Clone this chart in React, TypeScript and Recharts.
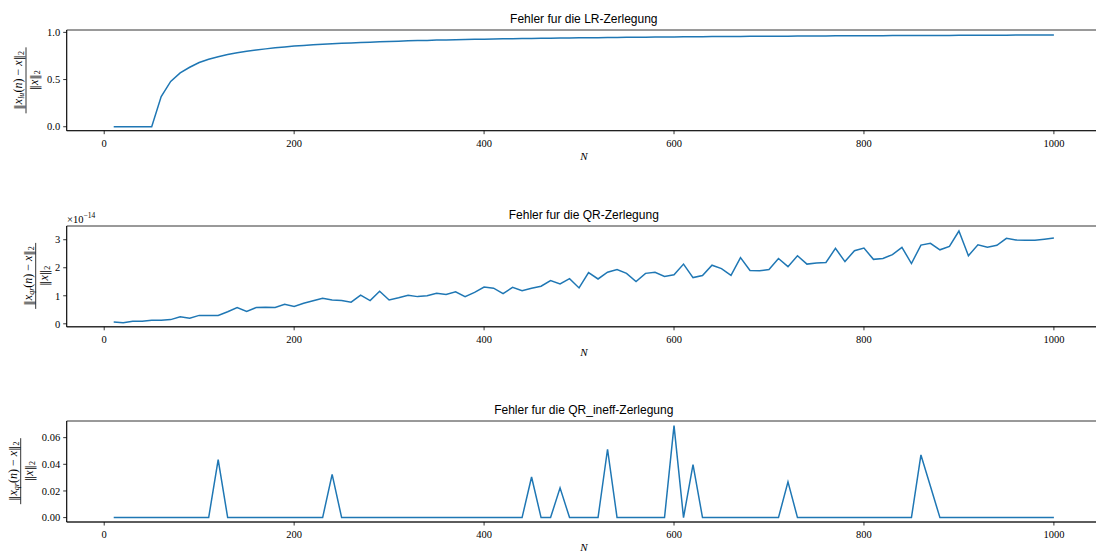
import React from 'react';
import { LineChart, Line, XAxis, YAxis, ReferenceArea } from 'recharts';

const nValues = [
  10, 20, 30, 40, 50, 60, 70, 80, 90, 100,
  110, 120, 130, 140, 150, 160, 170, 180, 190, 200,
  210, 220, 230, 240, 250, 260, 270, 280, 290, 300,
  310, 320, 330, 340, 350, 360, 370, 380, 390, 400,
  410, 420, 430, 440, 450, 460, 470, 480, 490, 500,
  510, 520, 530, 540, 550, 560, 570, 580, 590, 600,
  610, 620, 630, 640, 650, 660, 670, 680, 690, 700,
  710, 720, 730, 740, 750, 760, 770, 780, 790, 800,
  810, 820, 830, 840, 850, 860, 870, 880, 890, 900,
  910, 920, 930, 940, 950, 960, 970, 980, 990, 1000,
];

const luError = [
  0, 0, 0, 0, 0, 0.32, 0.48, 0.57, 0.63, 0.68,
  0.715, 0.742, 0.765, 0.785, 0.8, 0.813, 0.825, 0.836, 0.846, 0.855,
  0.862, 0.868, 0.874, 0.879, 0.884, 0.888, 0.892, 0.896, 0.9, 0.904,
  0.907, 0.91, 0.913, 0.915, 0.918, 0.92, 0.922, 0.924, 0.926, 0.928,
  0.93, 0.931, 0.933, 0.934, 0.936, 0.937, 0.938, 0.94, 0.941, 0.942,
  0.943, 0.944, 0.945, 0.946, 0.947, 0.948, 0.949, 0.95, 0.951, 0.952,
  0.953, 0.953, 0.954, 0.955, 0.956, 0.956, 0.957, 0.958, 0.958, 0.959,
  0.96, 0.96, 0.961, 0.961, 0.962, 0.962, 0.963, 0.963, 0.964, 0.964,
  0.965, 0.965, 0.966, 0.966, 0.967, 0.967, 0.967, 0.968, 0.968, 0.969,
  0.969, 0.969, 0.97, 0.97, 0.97, 0.971, 0.971, 0.971, 0.972, 0.972,
];

// values in units of 1e-14
const qrError = [
  0.06, 0.04, 0.09, 0.09, 0.13, 0.13, 0.15, 0.25, 0.2, 0.3,
  0.3, 0.3, 0.43, 0.58, 0.44, 0.58, 0.59, 0.58, 0.7, 0.62,
  0.73, 0.82, 0.91, 0.85, 0.83, 0.77, 1.02, 0.83, 1.16, 0.85,
  0.93, 1.02, 0.97, 1.0, 1.09, 1.05, 1.14, 0.97, 1.12, 1.31,
  1.27, 1.08, 1.3, 1.18, 1.27, 1.34, 1.54, 1.42, 1.61, 1.28,
  1.83, 1.6, 1.84, 1.94, 1.8, 1.51, 1.8, 1.84, 1.69, 1.75,
  2.13, 1.65, 1.72, 2.09, 1.97, 1.73, 2.36, 1.9, 1.89, 1.94,
  2.33, 2.04, 2.43, 2.13, 2.17, 2.19, 2.69, 2.22, 2.61, 2.7,
  2.3, 2.33, 2.47, 2.73, 2.15, 2.81, 2.87, 2.64, 2.76, 3.31,
  2.43, 2.82, 2.73, 2.8, 3.05, 2.99, 2.98, 2.98, 3.02, 3.06,
];

const qrIneffError = [
  0, 0, 0, 0, 0, 0, 0, 0, 0, 0,
  0, 0.0435, 0, 0, 0, 0, 0, 0, 0, 0,
  0, 0, 0, 0.0325, 0, 0, 0, 0, 0, 0,
  0, 0, 0, 0, 0, 0, 0, 0, 0, 0,
  0, 0, 0, 0, 0.0305, 0, 0, 0.0223, 0, 0,
  0, 0, 0.0513, 0, 0, 0, 0, 0, 0, 0.069,
  0, 0.0398, 0, 0, 0, 0, 0, 0, 0, 0,
  0, 0.0268, 0, 0, 0, 0, 0, 0, 0, 0,
  0, 0, 0, 0, 0, 0.047, 0.0235, 0, 0, 0,
  0, 0, 0, 0, 0, 0, 0, 0, 0, 0,
];

const xTicks = [0, 200, 400, 600, 800, 1000];
const luTicks = [0, 0.5, 1.0];
const qrTicks = [0, 1, 2, 3];
const qrIneffTicks = [0, 0.02, 0.04, 0.06];

const titles = [
  'Fehler fur die LR-Zerlegung',
  'Fehler fur die QR-Zerlegung',
  'Fehler fur die QR_ineff-Zerlegung',
];

const SERIF = '"Liberation Serif", "DejaVu Serif", serif';
const NORM = '"DejaVu Serif", serif';
const SANS = '"Liberation Sans", Arial, sans-serif';
const BLUE = '#1f77b4';
const X_DOMAIN: [number, number] = [-39.5, 1049.5];

type PanelProps = {
  top: number;
  plotH: number;
  values: number[];
  yDomain: [number, number];
  yTicks: number[];
  fmt: (v: number) => string;
};

function Panel({ top, plotH, values, yDomain, yTicks, fmt }: PanelProps) {
  const data = nValues.map((n, i) => ({ n, v: values[i] }));
  const marginTop = 30;
  const xAxisH = 30;
  const height = 190;
  const bottom = height - marginTop - plotH - xAxisH;
  return (
    <div style={{ position: 'absolute', left: 0, top: top - marginTop }}>
      <LineChart
        width={1110}
        height={height}
        data={data}
        margin={{ top: marginTop, right: 9.1, left: 0, bottom }}
      >
        <ReferenceArea
          x1={X_DOMAIN[0]}
          x2={X_DOMAIN[1]}
          y1={yDomain[0]}
          y2={yDomain[1]}
          fill="none"
          stroke="#000"
          strokeWidth={0.8}
          ifOverflow="visible"
        />
        <XAxis
          type="number"
          dataKey="n"
          domain={X_DOMAIN}
          ticks={xTicks}
          allowDataOverflow
          height={xAxisH}
          axisLine={{ stroke: '#000', strokeWidth: 0.8 }}
          tickLine={{ stroke: '#000', strokeWidth: 0.8 }}
          tickSize={3.5}
          tickMargin={5}
          tick={{ fill: '#000', fontSize: 10.5, fontFamily: SERIF }}
          interval={0}
        />
        <YAxis
          type="number"
          domain={yDomain}
          ticks={yTicks}
          allowDataOverflow
          width={66.7}
          axisLine={{ stroke: '#000', strokeWidth: 0.8 }}
          tickLine={{ stroke: '#000', strokeWidth: 0.8 }}
          tickSize={3.5}
          tickMargin={3}
          tickFormatter={fmt}
          tick={{ fill: '#000', fontSize: 10.5, fontFamily: SERIF }}
          interval={0}
        />
        <Line
          type="linear"
          dataKey="v"
          stroke={BLUE}
          strokeWidth={1.5}
          dot={false}
          activeDot={false}
          isAnimationActive={false}
        />
      </LineChart>
    </div>
  );
}

function Frac({ barX, cy, sub }: { barX: number; cy: number; sub: string }) {
  return (
    <g
      transform={`translate(${barX},${cy}) rotate(-90)`}
      fontFamily={SERIF}
      fontSize={12}
      fill="#000"
    >
      <text x={0} y={-4} textAnchor="middle">
        <tspan fontFamily={NORM} fontSize={11}>‖</tspan>
        <tspan fontStyle="italic">x</tspan>
        <tspan fontStyle="italic" fontSize={8} dy={2}>{sub}</tspan>
        <tspan dy={-2}>(</tspan>
        <tspan fontStyle="italic">n</tspan>
        <tspan>) − </tspan>
        <tspan fontStyle="italic">x</tspan>
        <tspan fontFamily={NORM} fontSize={11}>‖</tspan>
        <tspan fontSize={8} dy={2}>2</tspan>
      </text>
      <line x1={-33} x2={33} y1={0} y2={0} stroke="#000" strokeWidth={0.8} />
      <text x={0} y={12} textAnchor="middle">
        <tspan fontFamily={NORM} fontSize={11}>‖</tspan>
        <tspan fontStyle="italic">x</tspan>
        <tspan fontFamily={NORM} fontSize={11}>‖</tspan>
        <tspan fontSize={8} dy={2}>2</tspan>
      </text>
    </g>
  );
}

export default function App() {
  const plotCenterX = (66.7 + 1100.9) / 2;
  const panels = [
    { top: 30, plotH: 100.7 },
    { top: 225.5, plotH: 100.8 },
    { top: 420.7, plotH: 101 },
  ];
  return (
    <div
      style={{
        position: 'absolute',
        left: 0,
        top: 0,
        width: 1096,
        height: 552,
        overflow: 'hidden',
        background: '#fff',
      }}
    >
      <Panel
        top={panels[0].top}
        plotH={panels[0].plotH}
        values={luError}
        yDomain={[-0.042, 1.025]}
        yTicks={luTicks}
        fmt={(v) => v.toFixed(1)}
      />
      <Panel
        top={panels[1].top}
        plotH={panels[1].plotH}
        values={qrError}
        yDomain={[-0.107, 3.49]}
        yTicks={qrTicks}
        fmt={(v) => v.toFixed(0)}
      />
      <Panel
        top={panels[2].top}
        plotH={panels[2].plotH}
        values={qrIneffError}
        yDomain={[-0.0033, 0.0725]}
        yTicks={qrIneffTicks}
        fmt={(v) => v.toFixed(2)}
      />
      <svg
        width={1096}
        height={552}
        style={{ position: 'absolute', left: 0, top: 0, pointerEvents: 'none' }}
      >
        {panels.map((p, i) => (
          <g key={i}>
            <text
              x={plotCenterX}
              y={p.top - 6.7}
              textAnchor="middle"
              fontFamily={SANS}
              fontSize={12}
              fill="#000"
            >
              {titles[i]}
            </text>
            <text
              x={plotCenterX}
              y={p.top + p.plotH + 29.3}
              textAnchor="middle"
              fontFamily={SERIF}
              fontStyle="italic"
              fontSize={11}
              fill="#000"
            >
              N
            </text>
          </g>
        ))}
        <Frac barX={26} cy={panels[0].top + panels[0].plotH / 2} sub="lu" />
        <Frac barX={35.7} cy={panels[1].top + panels[1].plotH / 2} sub="qr" />
        <Frac barX={20.7} cy={panels[2].top + panels[2].plotH / 2} sub="qr" />
        <text x={67} y={222.5} fontFamily={SERIF} fontSize={10.5} fill="#000">
          ×10<tspan fontSize={7.5} dy={-5}>−14</tspan>
        </text>
      </svg>
    </div>
  );
}
